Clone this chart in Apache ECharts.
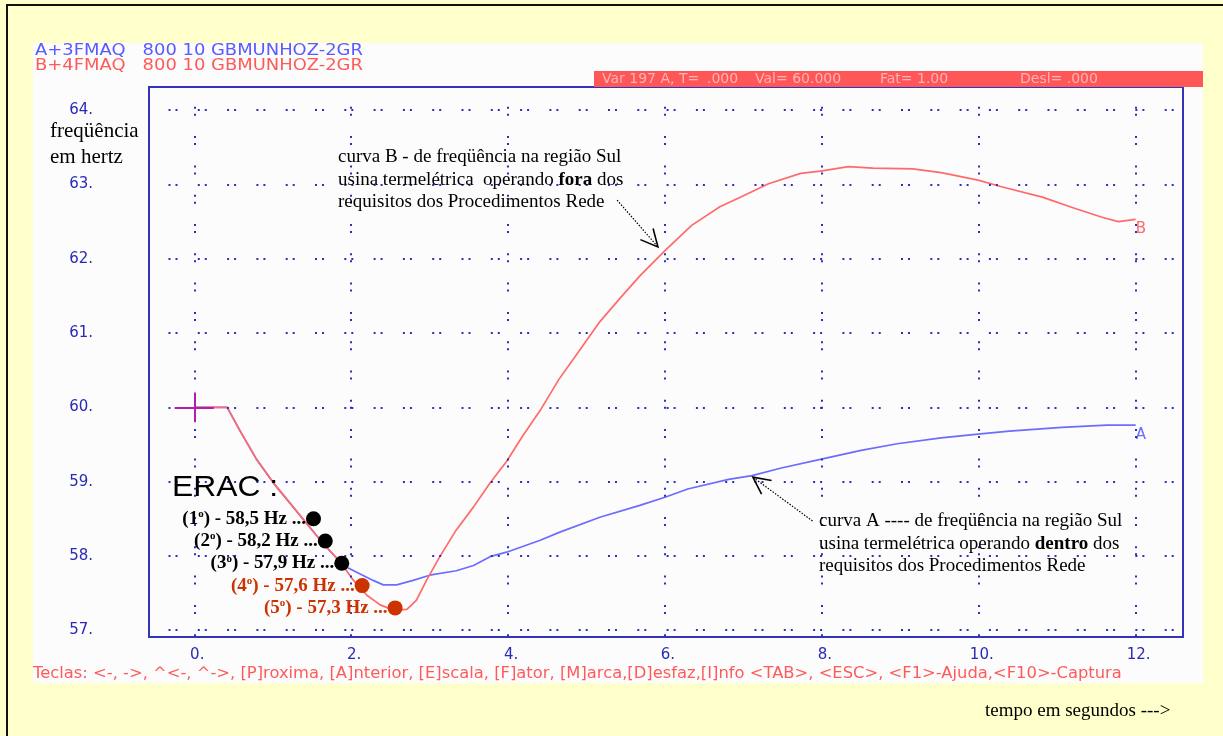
<!DOCTYPE html>
<html>
<head>
<meta charset="utf-8">
<script src="https://cdn.jsdelivr.net/npm/echarts@6/dist/echarts.min.js"></script>
<style>
  html, body { margin: 0; padding: 0; background: #FFFFCC; }
  #chart { width: 1223px; height: 736px; }
</style>
</head>
<body>
<div id="chart"></div>
<script>
// Curva B: usina operando fora dos requisitos (tempo em s, frequência em Hz)
const tempoB = [0, 0.42, 0.58, 0.80, 1.01, 1.22, 1.43, 1.64, 1.86, 2.03, 2.20, 2.37, 2.54, 2.71, 2.83, 2.96,
  3.13, 3.34, 3.56, 3.77, 3.98, 4.19, 4.41, 4.65, 4.86, 5.16, 5.42, 5.68, 6.00, 6.34, 6.70, 6.96, 7.32,
  7.73, 7.98, 8.34, 8.65, 9.16, 9.52, 9.99, 10.29, 10.81, 11.22, 11.57, 11.78, 12.00];
const freqB = [60, 60, 59.69, 59.29, 58.98, 58.71, 58.44, 58.17, 57.92, 57.67, 57.47, 57.34, 57.27, 57.28, 57.40, 57.67,
  57.99, 58.35, 58.66, 58.98, 59.27, 59.62, 59.96, 60.38, 60.69, 61.14, 61.46, 61.77, 62.11, 62.45, 62.70, 62.83, 63.01,
  63.15, 63.18, 63.24, 63.22, 63.21, 63.16, 63.06, 62.97, 62.83, 62.68, 62.56, 62.50, 62.53];

// Curva A: usina operando dentro dos requisitos
const tempoA = [0, 0.42, 0.58, 0.80, 1.01, 1.22, 1.43, 1.64, 1.90, 2.07, 2.28, 2.41, 2.58, 2.79, 3.00, 3.34,
  3.56, 3.77, 3.98, 4.41, 4.66, 5.17, 5.68, 6.00, 6.29, 6.81, 7.11, 7.47, 7.98, 8.50, 8.96, 9.52, 9.99,
  10.39, 11.06, 11.63, 12.00];
const freqA = [60, 60, 59.69, 59.29, 58.98, 58.71, 58.44, 58.17, 57.87, 57.78, 57.67, 57.61, 57.61, 57.67, 57.74, 57.80,
  57.87, 57.99, 58.05, 58.21, 58.32, 58.52, 58.68, 58.79, 58.90, 59.03, 59.08, 59.18, 59.30, 59.42, 59.51, 59.59, 59.64,
  59.68, 59.73, 59.76, 59.76];

// Estágios do ERAC (esquema regional de alívio de carga)
const eracOrdem = [1, 2, 3, 4, 5];
const eracHz = [58.5, 58.2, 57.9, 57.6, 57.3];
const eracTempo = [1.52, 1.67, 1.88, 2.14, 2.56];

// Marcas dos eixos
const ticksX = [0, 2, 4, 6, 8, 10, 12];
const ticksY = [57, 58, 59, 60, 61, 62, 63, 64];

// Cursor na posição T = 0, Val = 60
const cursorT = 0;
const cursorVal = 60;

const BLUE_TXT = '#2A2AB4';
const DOTS = '#2E2EBE';
const RED_B = '#FF6A6A';
const BLUE_A = '#6C6CFF';
const SANS = '"DejaVu Sans", sans-serif';
const SERIF = '"Liberation Serif", "Times New Roman", serif';

const chart = echarts.init(document.getElementById('chart'), null, { renderer: 'canvas' });

const zip = (xs, ys) => xs.map((x, i) => [x, ys[i]]);

const gridDash = { color: DOTS, width: 2, type: [2, 5, 2, 20.3] };

const eracData = eracOrdem.map((n, i) => {
  const col = i < 3 ? '#000000' : '#CC3300';
  return {
    value: [eracTempo[i], eracHz[i]],
    ordem: n,
    itemStyle: { color: col, opacity: 1 },
    label: { color: col }
  };
});

chart.setOption({
  animation: false,
  backgroundColor: 'transparent',
  grid: {
    left: 149, top: 87, width: 1034, height: 550,
    show: true, borderColor: '#3434B8', borderWidth: 2, backgroundColor: 'transparent'
  },
  xAxis: {
    type: 'value', min: -0.577, max: 12.603,
    axisLine: { show: false }, axisTick: { show: false }, splitLine: { show: false },
    axisLabel: {
      customValues: ticksX, margin: 11, color: BLUE_TXT, fontFamily: SANS, fontSize: 15,
      padding: [0, 0, 0, 6],
      formatter: v => v + '.'
    }
  },
  yAxis: {
    type: 'value', min: 56.908, max: 64.313,
    axisLine: { show: false }, axisTick: { show: false }, splitLine: { show: false },
    axisLabel: {
      customValues: ticksY, margin: 56, color: BLUE_TXT, fontFamily: SANS, fontSize: 15,
      padding: [0, 0, 6, 0],
      formatter: v => v + '.'
    }
  },
  series: [
    {
      name: 'grade', type: 'line', data: [], silent: true, z: 1,
      markLine: {
        silent: true, symbol: ['none', 'none'], animation: false,
        label: { show: false },
        emphasis: { disabled: true },
        data: [
          ...ticksY.map(v => ({ yAxis: v, lineStyle: Object.assign({}, gridDash, { dashOffset: 9.8 }) })),
          ...ticksX.map(v => ({ xAxis: v, lineStyle: Object.assign({}, gridDash, { dashOffset: 6.2 }) }))
        ]
      }
    },
    {
      name: 'A', type: 'line', data: zip(tempoA, freqA), showSymbol: false, z: 3,
      lineStyle: { color: BLUE_A, width: 1.7 }, itemStyle: { color: BLUE_A },
      endLabel: {
        show: true, formatter: 'A', color: BLUE_A, fontFamily: SANS, fontSize: 15,
        distance: 0, offset: [0, 10]
      }
    },
    {
      name: 'B', type: 'line', data: zip(tempoB, freqB), showSymbol: false, z: 4,
      lineStyle: { color: RED_B, width: 1.7 }, itemStyle: { color: RED_B },
      endLabel: {
        show: true, formatter: 'B', color: RED_B, fontFamily: SANS, fontSize: 15,
        distance: 0, offset: [0, 10]
      }
    },
    {
      name: 'cursor', type: 'line', data: [], silent: true, z: 5,
      markLine: {
        silent: true, symbol: ['none', 'none'], animation: false,
        label: { show: false },
        lineStyle: { color: '#B01EB0', width: 2, type: 'solid' },
        data: [
          [{ coord: [cursorT - 0.25, cursorVal] }, { coord: [cursorT + 0.25, cursorVal] }],
          [{ coord: [cursorT, cursorVal + 0.2] }, { coord: [cursorT, cursorVal - 0.2] }]
        ]
      }
    },
    {
      name: 'ERAC', type: 'scatter', data: eracData, symbolSize: 15, z: 6,
      itemStyle: { opacity: 1 },
      label: {
        show: true, position: 'left', distance: 0,
        fontFamily: SERIF, fontWeight: 'bold', fontSize: 19,
        formatter: p => '{t|(' + p.data.ordem + '}{s|o}{t|) - ' +
          p.value[1].toFixed(1).replace('.', ',') + ' Hz ...}',
        rich: {
          t: { fontFamily: SERIF, fontWeight: 'bold', fontSize: 19, lineHeight: 20 },
          s: { fontFamily: SERIF, fontWeight: 'bold', fontSize: 11, lineHeight: 20, verticalAlign: 'top' }
        }
      }
    }
  ]
});

// Setas das anotações, ancoradas nas coordenadas dos dados
function arrow(from, to) {
  const p0 = chart.convertToPixel({ gridIndex: 0 }, from);
  const p1 = chart.convertToPixel({ gridIndex: 0 }, to);
  const ang = Math.atan2(p0[1] - p1[1], p0[0] - p1[0]);
  const L = 19, spread = 0.46;
  const a1 = [p1[0] + L * Math.cos(ang + spread), p1[1] + L * Math.sin(ang + spread)];
  const a2 = [p1[0] + L * Math.cos(ang - spread), p1[1] + L * Math.sin(ang - spread)];
  return [
    { type: 'line', z: 20, shape: { x1: p0[0], y1: p0[1], x2: p1[0], y2: p1[1] },
      style: { stroke: '#000', lineWidth: 1.2, lineDash: [1.5, 1.5] } },
    { type: 'polyline', z: 20, shape: { points: [a1, p1, a2] },
      style: { stroke: '#000', lineWidth: 1.6, fill: null } }
  ];
}

const header1 = 'A+3FMAQ   800 10 GBMUNHOZ-2GR';
const header2 = 'B+4FMAQ   800 10 GBMUNHOZ-2GR';
const teclas = 'Teclas: <-, ->, ^<-, ^->, [P]roxima, [A]nterior, [E]scala, [F]ator, [M]arca,[D]esfaz,[I]nfo <TAB>, <ESC>, <F1>-Ajuda,<F10>-Captura';

const statusParts = [
  { x: 602, text: 'Var 197 A, T=' },
  { x: 707, text: '.000' },
  { x: 755, text: 'Val= 60.000' },
  { x: 880, text: 'Fat= 1.00' },
  { x: 1020, text: 'Desl= .000' }
];

const elements = [
  // moldura externa e painel branco
  { type: 'rect', z: -20, shape: { x: 7, y: 5, width: 1240, height: 760 },
    style: { fill: '#FFFFCC', stroke: '#111', lineWidth: 2 } },
  { type: 'rect', z: -19, shape: { x: 33, y: 43, width: 1170, height: 640 },
    style: { fill: '#FCFCFC' } },
  // cabeçalho
  { type: 'text', z: 10, x: 35, y: 51, scaleX: 1.12, style: { text: header1, fill: '#5A5AFF',
    fontFamily: SANS, fontSize: 16, verticalAlign: 'middle' } },
  { type: 'text', z: 10, x: 35, y: 66, scaleX: 1.12, style: { text: header2, fill: '#FF5A5A',
    fontFamily: SANS, fontSize: 16, verticalAlign: 'middle' } },
  // barra de estado
  { type: 'rect', z: 10, shape: { x: 594, y: 71, width: 609, height: 16 }, style: { fill: '#FF5757' } },
  ...statusParts.map(s => ({ type: 'text', z: 11, x: s.x, y: 79.5, style: { text: s.text,
    fill: '#FFB4B4', fontFamily: SANS, fontSize: 14, verticalAlign: 'middle' } })),
  // título do eixo Y
  { type: 'text', z: 10, x: 50, y: 131, style: { text: 'freqüência', fill: '#000',
    fontFamily: SERIF, fontSize: 21, verticalAlign: 'middle' } },
  { type: 'text', z: 10, x: 50, y: 157, style: { text: 'em hertz', fill: '#000',
    fontFamily: SERIF, fontSize: 21, verticalAlign: 'middle' } },
  // ERAC
  { type: 'text', z: 10, x: 172, y: 488, scaleX: 1.06, style: { text: 'ERAC :', fill: '#000',
    fontFamily: '"Liberation Sans", Arial, sans-serif', fontSize: 30, verticalAlign: 'middle' } },
  // anotação curva B
  { type: 'text', z: 10, x: 338, y: 146, style: {
    text: 'curva B - de freqüência na região Sul\nusina termelétrica  operando {b|fora} dos\nrequisitos dos Procedimentos Rede',
    fill: '#000', fontFamily: SERIF, fontSize: 19, lineHeight: 22.5, verticalAlign: 'top',
    rich: { b: { fontFamily: SERIF, fontSize: 19, fontWeight: 'bold', lineHeight: 22.5 } } } },
  // anotação curva A
  { type: 'text', z: 10, x: 819, y: 510, style: {
    text: 'curva A ---- de freqüência na região Sul\nusina termelétrica operando {b|dentro} dos\nrequisitos dos Procedimentos Rede',
    fill: '#000', fontFamily: SERIF, fontSize: 19, lineHeight: 22.5, verticalAlign: 'top',
    rich: { b: { fontFamily: SERIF, fontSize: 19, fontWeight: 'bold', lineHeight: 22.5 } } } },
  // linha de teclas
  { type: 'text', z: 10, x: 33, y: 674, scaleX: 1.09, style: { text: teclas, fill: '#FF5A5A',
    fontFamily: SANS, fontSize: 15, verticalAlign: 'middle' } },
  // rótulo do eixo X
  { type: 'text', z: 10, x: 985, y: 711, style: { text: 'tempo em segundos --->', fill: '#000',
    fontFamily: SERIF, fontSize: 19, verticalAlign: 'middle' } },
  ...arrow([5.39, 62.79], [5.91, 62.16]),
  ...arrow([7.88, 58.47], [7.12, 59.06])
];

chart.setOption({ graphic: { elements: elements } });
</script>
</body>
</html>
